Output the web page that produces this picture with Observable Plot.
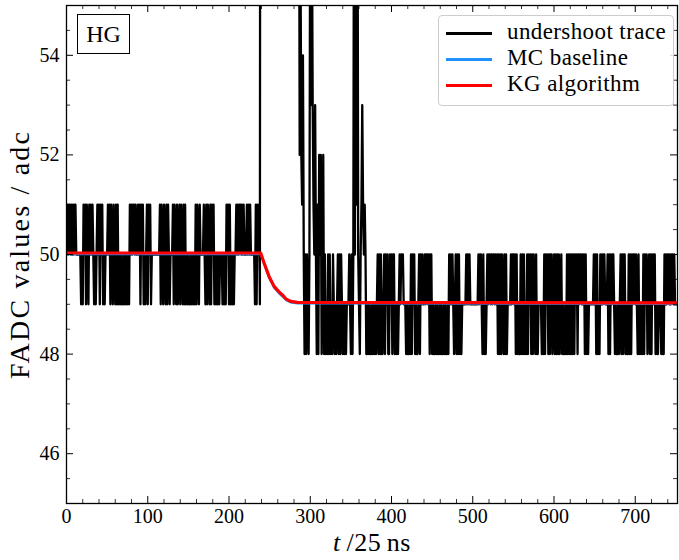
<!DOCTYPE html>
<html><head><meta charset="utf-8">
<script src="https://cdn.jsdelivr.net/npm/d3@7"></script>
<script src="https://cdn.jsdelivr.net/npm/@observablehq/plot@0.6"></script>
<style>
body{margin:0;background:#fff;}
#wrap{position:relative;width:679px;height:560px;font-family:"Liberation Serif",serif;color:#000;}
#legend{position:absolute;left:438px;top:15px;width:236px;height:91px;border:1px solid #cccccc;border-radius:4px;background:rgba(255,255,255,0.85);box-sizing:border-box;}
.row{position:absolute;left:0;height:26px;width:100%;}
.sw{position:absolute;left:7px;top:12px;width:46px;height:3px;}
.lab{position:absolute;left:68px;top:-1px;font-size:23px;letter-spacing:0.4px;line-height:26px;white-space:nowrap;}
#hg{position:absolute;left:77px;top:14px;width:53px;height:40px;border:1px solid #000;box-sizing:border-box;font-size:24px;line-height:38px;text-align:center;background:#fff;}
</style></head><body><div id="wrap"></div>
<script>
// ---- data ----
// undershoot trace, one sample per t (t = 0 .. 238)
const tracePre = [50,51,50,51,51,50,51,50,51,50,51,51,50,
50,50,50,50,50,
49,50,49,51,50,51,49,51,50,49,
51,50,51,50,51,50,49,50,49,50,51,50,51,49,51,50,51,49,50,49,50,
50,50,
51,50,51,49,51,50,49,51,50,49,51,49,51,49,50,49,50,49,49,50,49,50,49,50,49,50,49,
51,50,51,50,51,51,50,51,
50,50,
51,50,51,49,51,50,51,49,50,49,50,51,49,51,50,51,49,
50,50,50,50,50,50,50,50,50,50,
51,49,51,50,49,51,50,49,51,49,51,50,49,
50,50,50,
51,49,51,50,49,51,49,50,51,49,51,50,49,51,49,51,49,50,49,50,49,49,50,49,50,49,50,49,51,49,51,50,49,51,
50,50,50,50,
51,50,49,51,49,51,50,49,51,49,51,50,51,49,50,49,50,49,50,49,50,50,50,49,50,49,50,49,51,50,51,49,51,49,50,49,50,49,
50,50,
51,50,51,50,51,51,50,51,50,51,
50,50,50,
51,50,51,50,51,
50,50,50,50,50,
49,51,49,51,50,51,49];
// saturated pulse, above the visible range
const pulseT = [239, 243, 250, 262, 275, 286];
const pulseV = [75, 160, 190, 130, 85, 60];
// pulse tail, one sample per t (t = 287 .. 369)
const traceTail = [52,56,52,51,54,50,48,50,48,50,49,48,50,58,53,57,53,51,50,53,50,48,51,48,52,50,52,48,50,52,
48,50,48,49,48,50,48,50,48,49,48,50,49,48,49,48,49,50,48,50,48,50,49,48,49,48,49,48,49,49,49,50,49,48,50,48,50,
60,50,62,51,60,50,49,48,50,51,53,51,50,51,50,48];
// after the pulse, one sample per t (t = 370 .. 752)
const tracePost = [48,49,48,49,48,48,49,48,49,48,49,48,49,
50,48,50,48,50,48,48,49,
50,48,50,49,50,48,48,50,49,50,48,50,50,48,49,48,49,48,49,
50,49,50,50,50,49,49,49,
48,49,48,48,49,48,50,48,50,49,50,48,49,48,48,49,50,48,50,49,50,49,49,
50,49,50,50,49,50,48,50,50,48,49,48,48,49,48,49,48,48,49,48,49,48,48,49,48,49,48,48,49,48,50,49,50,49,50,49,
48,49,50,48,50,48,50,48,49,48,
49,49,49,49,49,
50,49,50,49,50,
49,49,49,49,49,49,49,49,49,49,
50,49,50,50,49,48,50,48,49,48,49,
50,49,50,50,49,50,49,50,50,49,50,49,50,48,50,48,50,48,50,49,48,50,48,50,48,49,
49,49,49,
50,49,50,50,49,50,48,50,48,49,48,48,50,48,50,48,50,48,49,48,50,48,50,49,50,48,50,48,50,49,48,50,48,48,
49,49,49,49,
48,49,48,50,48,50,49,50,48,50,48,50,50,48,49,50,48,50,48,50,48,50,48,49,50,48,49,48,48,49,48,50,48,50,48,50,48,50,48,50,48,50,49,50,48,50,49,50,50,49,50,49,50,48,50,48,49,48,
49,49,49,49,49,49,
50,49,50,48,50,48,49,48,
50,49,50,49,50,50,49,49,49,
50,48,50,48,50,49,50,50,49,
48,49,48,48,49,48,49,50,48,50,48,50,50,48,49,48,48,50,48,50,48,50,49,50,50,49,
50,49,48,50,48,49,48,49,48,50,48,50,49,50,48,49,50,48,50,48,50,49,50,50,
48,49,48,48,49,49,49,48,49,48,48,50,49,50,49,50,50,49,50,49,50,50,49,50,49,49,49,49];
const preStart = 0, tailStart = 287, postStart = 370;
// MC baseline and KG algorithm
const mcT = [0, 239, 243.2, 249.3, 255.5, 261.6, 265.7, 269.9, 276, 284.3, 752];
const mcV = [50.0, 50.0, 49.79, 49.52, 49.32, 49.21, 49.15, 49.08, 49.03, 49.01, 49.0];
const kgT = [0, 239, 243.2, 249.3, 255.5, 261.6, 265.7, 269.9, 276, 284.3, 752];
const kgV = [50.03, 50.03, 49.83, 49.56, 49.36, 49.25, 49.19, 49.11, 49.06, 49.04, 49.03];
// ticks
const xMajor = [0, 100, 200, 300, 400, 500, 600, 700];
const xMinor = [20,40,60,80,120,140,160,180,220,240,260,280,320,340,360,380,420,440,460,480,520,540,560,580,620,640,660,680,720,740];
const yMajor = [46, 48, 50, 52, 54];
const yMinor = [45, 45.5, 46.5, 47, 47.5, 48.5, 49, 49.5, 50.5, 51, 51.5, 52.5, 53, 53.5, 54.5, 55];
const xDomain = [0, 752], yDomain = [45, 55];
const legendItems = [["undershoot trace", "#000000"], ["MC baseline", "#1e90ff"], ["KG algorithm", "#ff0000"]];

// ---- build tables ----
const trace = [];
tracePre.forEach((v, i) => trace.push({t: preStart + i, v}));
pulseT.forEach((t, i) => trace.push({t, v: pulseV[i]}));
traceTail.forEach((v, i) => trace.push({t: tailStart + i, v}));
tracePost.forEach((v, i) => trace.push({t: postStart + i, v}));
const mc = mcT.map((t, i) => ({t, v: mcV[i]}));
const kg = kgT.map((t, i) => ({t, v: kgV[i]}));

const W = 679, H = 560, mL = 66, mR = 2, mT = 5, mB = 57;
const pw = W - mL - mR, ph = H - mT - mB;
const maj = 7, mnr = 4;

const chart = Plot.plot({
  width: W, height: H, marginLeft: mL, marginRight: mR, marginTop: mT, marginBottom: mB,
  x: {domain: xDomain}, y: {domain: yDomain},
  style: {fontFamily: '"Liberation Serif", serif', fontSize: "20px", color: "black", background: "white"},
  marks: [
    Plot.line(trace, {x: "t", y: "v", stroke: "#000", strokeWidth: 2.3, clip: true}),
    Plot.line(mc, {x: "t", y: "v", stroke: "#1e90ff", strokeWidth: 1.5, clip: true}),
    Plot.line(kg, {x: "t", y: "v", stroke: "#ff0000", strokeWidth: 3.2, clip: true}),
    Plot.tickX(xMajor, {insetTop: ph - maj, stroke: "#000", strokeWidth: 1}),
    Plot.tickX(xMinor, {insetTop: ph - mnr, stroke: "#000", strokeWidth: 0.8}),
    Plot.tickX(xMajor, {insetBottom: ph - maj, stroke: "#000", strokeWidth: 1}),
    Plot.tickX(xMinor, {insetBottom: ph - mnr, stroke: "#000", strokeWidth: 0.8}),
    Plot.tickY(yMajor, {insetRight: pw - maj, stroke: "#000", strokeWidth: 1}),
    Plot.tickY(yMinor, {insetRight: pw - mnr, stroke: "#000", strokeWidth: 0.8}),
    Plot.tickY(yMajor, {insetLeft: pw - maj, stroke: "#000", strokeWidth: 1}),
    Plot.tickY(yMinor, {insetLeft: pw - mnr, stroke: "#000", strokeWidth: 0.8}),
    Plot.axisX({ticks: xMajor, tickSize: 0, tickPadding: 5, label: "t /25 ns", labelAnchor: "center", labelArrow: "none", labelOffset: 47}),
    Plot.axisY({ticks: yMajor, tickSize: 0, tickPadding: 7, label: "FADC values / adc", labelAnchor: "center", labelArrow: "none", labelOffset: 57}),
    Plot.frame({stroke: "#000", strokeWidth: 1.3})
  ]
});

const wrap = document.getElementById("wrap");
wrap.appendChild(chart);
const svg = d3.select(chart);
const xl = svg.select('g[aria-label="x-axis label"] text');
if (!xl.empty()) {
  xl.attr("font-size", 26).attr("letter-spacing", "0.5px").text(null);
  xl.append("tspan").attr("font-style", "italic").text("t");
  xl.append("tspan").text("\u2009/25\u2009ns");
}
svg.select('g[aria-label="y-axis label"] text').attr("font-size", 28).attr("letter-spacing", "2.2px");

const hg = document.createElement("div");
hg.id = "hg"; hg.textContent = "HG";
wrap.appendChild(hg);
const lg = document.createElement("div");
lg.id = "legend";
legendItems.forEach(([name, col], i) => {
  const r = document.createElement("div");
  r.className = "row"; r.style.top = (4 + i * 26) + "px";
  r.innerHTML = `<div class="sw" style="background:${col}"></div><div class="lab">${name}</div>`;
  lg.appendChild(r);
});
wrap.appendChild(lg);
</script>
</body></html>
